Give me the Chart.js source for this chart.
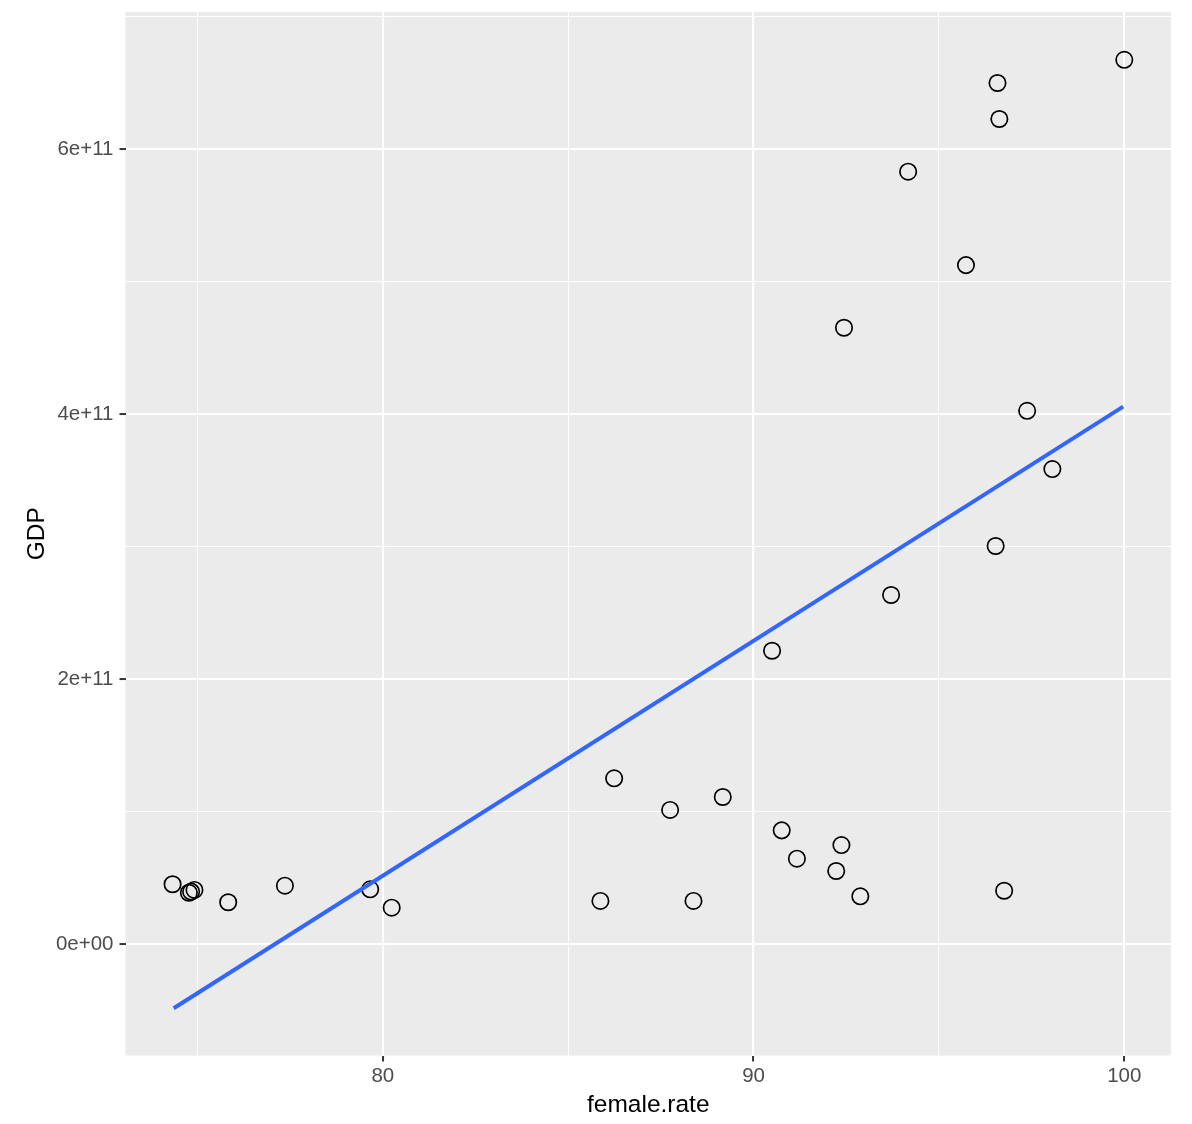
<!DOCTYPE html>
<html>
<head>
<meta charset="utf-8">
<script src="https://cdn.jsdelivr.net/npm/chart.js@4/dist/chart.umd.min.js"></script>
<style>
  body { margin: 0; background: #fff; }
  canvas { display: block; }
</style>
</head>
<body>
<canvas id="scatterChart" width="1192" height="1124"></canvas>
<script>
// female.rate vs GDP
var femaleRate = [74.33, 74.77, 74.83, 74.92, 75.83, 77.36, 79.66, 80.24, 85.87, 86.24,
                  87.75, 88.38, 89.17, 90.50, 90.76, 91.17, 92.23, 92.37, 92.44, 92.88,
                  93.71, 94.17, 95.73, 96.53, 96.58, 96.63, 96.76, 97.38, 98.06, 100.0];
var gdp = [0.451e11, 0.387e11, 0.395e11, 0.408e11, 0.315e11, 0.440e11, 0.413e11, 0.274e11, 0.325e11, 1.251e11,
           1.012e11, 0.325e11, 1.110e11, 2.214e11, 0.858e11, 0.644e11, 0.551e11, 0.747e11, 4.653e11, 0.360e11,
           2.635e11, 5.831e11, 5.126e11, 3.005e11, 6.501e11, 6.229e11, 0.402e11, 4.026e11, 3.586e11, 6.676e11];

// fitted line ends (lm smooth)
var fitX = [74.36, 99.97];
var fitY = [-0.485e11, 4.057e11];

// axis breaks
var xGrid = [75, 80, 85, 90, 95, 100];
var xLabels = [80, 90, 100];
var yGrid = [0, 1e11, 2e11, 3e11, 4e11, 5e11, 6e11, 7e11];
var yLabels = [0, 2e11, 4e11, 6e11];
var yLabelText = ['0e+00', '2e+11', '4e+11', '6e+11'];

document.addEventListener('DOMContentLoaded', function () {
  var ctx = document.getElementById('scatterChart').getContext('2d');

  var points = femaleRate.map(function (r, i) { return { x: r, y: gdp[i] }; });
  var fit = fitX.map(function (r, i) { return { x: r, y: fitY[i] }; });

  // grey panel behind the grid
  var panelBg = {
    id: 'panelBg',
    beforeDraw: function (chart) {
      var a = chart.chartArea;
      var c = chart.ctx;
      c.save();
      c.fillStyle = '#EBEBEB';
      c.fillRect(a.left, a.top, a.right - a.left, a.bottom - a.top);
      c.restore();
    }
  };

  function isMajor(list, ctx) {
    return ctx.tick && list.indexOf(ctx.tick.value) !== -1;
  }

  // no label overhang padding, so the panel sits where the layout says
  function noOverhang(scale) {
    scale.paddingTop = 0;
    scale.paddingBottom = 0;
    scale.paddingLeft = 0;
    scale.paddingRight = 0;
  }

  var tickFont = { family: 'Liberation Sans', size: 20.5 };
  var titleFont = { family: 'Liberation Sans', size: 24.5 };

  new Chart(ctx, {
    type: 'scatter',
    data: {
      datasets: [{
        type: 'line',
        data: fit,
        borderColor: '#3366FF',
        borderWidth: 4,
        pointRadius: 0,
        fill: false,
        order: 0
      }, {
        data: points,
        pointStyle: 'circle',
        pointRadius: 8.2,
        pointBorderWidth: 1.7,
        pointBorderColor: '#000000',
        pointBackgroundColor: 'rgba(0,0,0,0)',
        order: 1
      }]
    },
    options: {
      responsive: false,
      animation: false,
      devicePixelRatio: 1,
      layout: { padding: { top: 12, right: 21, bottom: 0, left: 0 } },
      plugins: { legend: { display: false }, tooltip: { enabled: false } },
      scales: {
        x: {
          type: 'linear',
          min: 73.06,
          max: 101.26,
          afterFit: function (scale) { scale.height = 68.5; noOverhang(scale); },
          afterBuildTicks: function (scale) {
            scale.ticks = xGrid.map(function (v) { return { value: v }; });
          },
          border: { display: false },
          grid: {
            color: '#FFFFFF',
            lineWidth: function (c) { return isMajor(xLabels, c) ? 2.1 : 1.05; },
            tickLength: 6,
            tickColor: function (c) { return isMajor(xLabels, c) ? '#333333' : 'rgba(0,0,0,0)'; },
            tickWidth: 2
          },
          ticks: {
            color: '#4D4D4D',
            font: tickFont,
            padding: 3,
            maxRotation: 0,
            autoSkip: false,
            callback: function (v) { return xLabels.indexOf(v) !== -1 ? String(v) : ''; }
          },
          title: {
            display: true,
            text: 'female.rate',
            color: '#000000',
            font: titleFont,
            padding: { top: 0, bottom: 4 }
          }
        },
        y: {
          type: 'linear',
          min: -0.842e11,
          max: 7.037e11,
          afterFit: function (scale) { scale.width = 125.5; noOverhang(scale); },
          afterBuildTicks: function (scale) {
            scale.ticks = yGrid.map(function (v) { return { value: v }; });
          },
          border: { display: false },
          grid: {
            color: '#FFFFFF',
            lineWidth: function (c) { return isMajor(yLabels, c) ? 2.1 : 1.05; },
            tickLength: 6,
            tickColor: function (c) { return isMajor(yLabels, c) ? '#333333' : 'rgba(0,0,0,0)'; },
            tickWidth: 2
          },
          ticks: {
            color: '#4D4D4D',
            font: tickFont,
            padding: 6,
            autoSkip: false,
            callback: function (v) {
              var i = yLabels.indexOf(v);
              return i !== -1 ? yLabelText[i] : '';
            }
          },
          title: {
            display: true,
            text: 'GDP',
            color: '#000000',
            font: titleFont,
            padding: { top: 23, bottom: 0 }
          }
        }
      }
    },
    plugins: [panelBg]
  });
});
</script>
</body>
</html>
